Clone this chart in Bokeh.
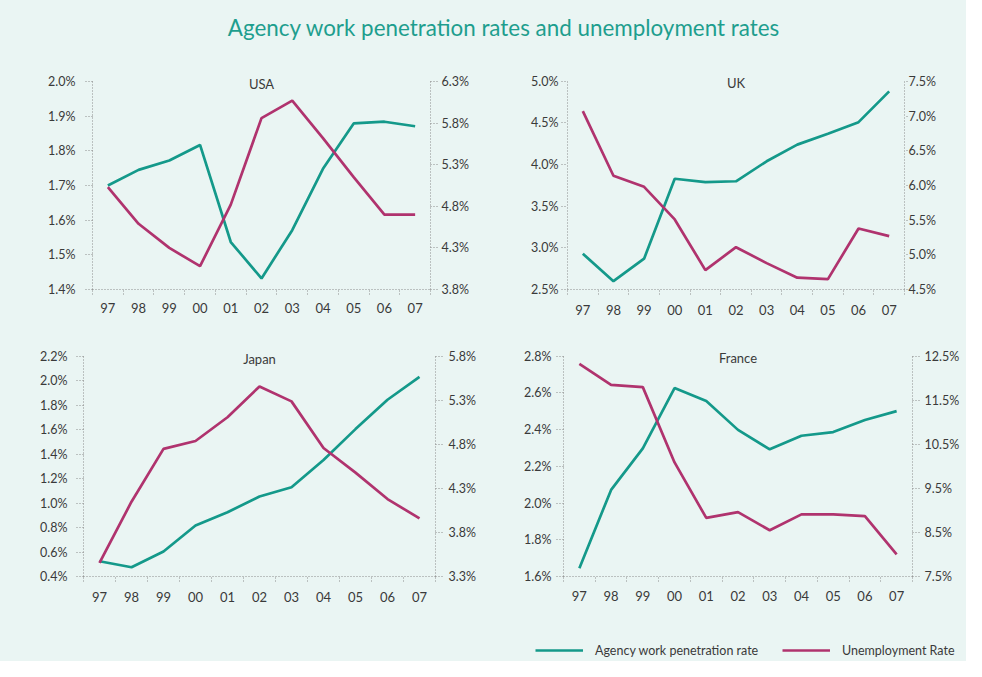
from bokeh.plotting import figure
from bokeh.models import (Range1d, LinearAxis, FixedTicker, Label, Legend, LegendItem,
                          PrintfTickFormatter)
from bokeh.layouts import column, row
from bokeh.embed import file_html
from bokeh.resources import INLINE

# ---------------- data ----------------
years = ["97", "98", "99", "00", "01", "02", "03", "04", "05", "06", "07"]

usa_agency = [1.70, 1.745, 1.772, 1.817, 1.537, 1.432, 1.571, 1.748, 1.879, 1.884, 1.871]
usa_unemp = [5.03, 4.59, 4.30, 4.08, 4.82, 5.86, 6.07, 5.62, 5.15, 4.70, 4.70]
usa_left_ticks = [1.4, 1.5, 1.6, 1.7, 1.8, 1.9, 2.0]
usa_right_ticks = [3.8, 4.3, 4.8, 5.3, 5.8, 6.3]

uk_agency = [2.93, 2.60, 2.87, 3.83, 3.79, 3.80, 4.04, 4.24, 4.37, 4.51, 4.88]
uk_unemp = [7.07, 6.14, 5.98, 5.51, 4.78, 5.11, 4.88, 4.67, 4.65, 5.38, 5.27]
uk_left_ticks = [2.5, 3.0, 3.5, 4.0, 4.5, 5.0]
uk_right_ticks = [4.5, 5.0, 5.5, 6.0, 6.5, 7.0, 7.5]

japan_agency = [0.525, 0.476, 0.604, 0.817, 0.926, 1.054, 1.130, 1.353, 1.606, 1.846, 2.034]
japan_unemp = [3.455, 4.15, 4.75, 4.84, 5.11, 5.46, 5.29, 4.76, 4.48, 4.18, 3.96]
japan_left_ticks = [0.4, 0.6, 0.8, 1.0, 1.2, 1.4, 1.6, 1.8, 2.0, 2.2]
japan_right_ticks = [3.3, 3.8, 4.3, 4.8, 5.3, 5.8]

france_agency = [1.645, 2.072, 2.298, 2.627, 2.556, 2.399, 2.293, 2.367, 2.387, 2.453, 2.501]
france_unemp = [12.33, 11.85, 11.80, 10.09, 8.83, 8.96, 8.55, 8.91, 8.91, 8.87, 8.00]
france_left_ticks = [1.6, 1.8, 2.0, 2.2, 2.4, 2.6, 2.8]
france_right_ticks = [7.5, 8.5, 9.5, 10.5, 11.5, 12.5]

title_text = "Agency work penetration rates and unemployment rates"
series_names = ["Agency work penetration rate", "Unemployment Rate"]

# ---------------- style ----------------
BG = "#EAF5F3"
GREEN = "#14998A"
RED = "#B0336E"
TITLE_C = "#1E9E8E"
AX = "#8c8c8c"
TXT = "#3a3a3a"
FONT = "Lato"
LW = 2.7
EXT = 10  # px of headroom above the top tick so the panel name is not clipped


def style_axis(ax, tick_out, standoff, size="13px"):
    ax.axis_line_color = AX
    ax.axis_line_dash = "1 2"
    ax.axis_line_width = 1
    ax.major_tick_line_color = AX
    ax.major_tick_line_dash = "1 2"
    ax.major_tick_out = tick_out
    ax.major_tick_in = 0
    ax.minor_tick_line_color = None
    ax.major_label_text_font = FONT
    ax.major_label_text_font_size = size
    ax.major_label_text_color = TXT
    ax.major_label_standoff = standoff


def make_panel(name, agency, unemp, lticks, rticks, w, h, borders,
               lstand, rstand, ltick=7, rtick=7, xstand=10):
    n = len(years)
    xs = list(range(n))
    b_left, b_right, b_top, b_bottom = borders
    frame_h = h - b_top - b_bottom
    lspan = lticks[-1] - lticks[0]
    rspan = rticks[-1] - rticks[0]
    p = figure(width=w, height=h, output_backend="svg", toolbar_location=None,
               x_range=Range1d(-0.5, n - 0.5),
               y_range=Range1d(lticks[0], lticks[-1] + lspan * EXT / frame_h),
               x_axis_location=None, y_axis_location=None,
               min_border_left=b_left, min_border_right=b_right,
               min_border_top=b_top - EXT, min_border_bottom=b_bottom)
    p.extra_y_ranges = {"u": Range1d(rticks[0], rticks[-1] + rspan * EXT / frame_h)}
    p.grid.visible = False
    p.outline_line_color = None
    p.background_fill_color = BG
    p.border_fill_color = BG

    xaxis = LinearAxis(ticker=FixedTicker(ticks=xs, minor_ticks=[i - 0.5 for i in range(n + 1)]),
                       major_label_overrides={i: years[i] for i in xs})
    style_axis(xaxis, 0, xstand)
    xaxis.major_tick_line_color = None
    xaxis.minor_tick_line_color = AX
    xaxis.minor_tick_line_dash = "1 2"
    xaxis.minor_tick_out = 5
    xaxis.minor_tick_in = 0
    p.add_layout(xaxis, "below")

    yl = LinearAxis(ticker=FixedTicker(ticks=lticks), bounds=(lticks[0], lticks[-1]),
                    formatter=PrintfTickFormatter(format="%.1f%%"))
    style_axis(yl, ltick, lstand, "12.5px")
    p.add_layout(yl, "left")

    yr = LinearAxis(y_range_name="u", ticker=FixedTicker(ticks=rticks),
                    bounds=(rticks[0], rticks[-1]),
                    formatter=PrintfTickFormatter(format="%.1f%%"))
    style_axis(yr, rtick, rstand, "12.5px")
    p.add_layout(yr, "right")

    p.line(xs, agency, line_color=GREEN, line_width=LW)
    p.line(xs, unemp, line_color=RED, line_width=LW, y_range_name="u")

    p.add_layout(Label(x=(n - 1) / 2, y=lticks[-1] - lspan * 2 / frame_h, text=name,
                       text_align="center", text_baseline="middle", text_font=FONT,
                       text_font_size="13px", text_color=TXT))
    return p


usa = make_panel("USA", usa_agency, usa_unemp, usa_left_ticks, usa_right_ticks,
                 490, 269, (92, 60, 17, 44), 10, 4, xstand=8)
uk = make_panel("UK", uk_agency, uk_unemp, uk_left_ticks, uk_right_ticks,
                476, 269, (77, 62, 17, 41), 3, 1, ltick=6, rtick=3, xstand=10)
japan = make_panel("Japan", japan_agency, japan_unemp, japan_left_ticks, japan_right_ticks,
                   490, 285, (83, 55, 23, 42), 9, 6, xstand=10)
france = make_panel("France", france_agency, france_unemp, france_left_ticks, france_right_ticks,
                    476, 285, (73, 54, 21, 39), 5, 5, xstand=9)

# ---------------- title strip ----------------
tf = figure(width=966, height=64, output_backend="svg", toolbar_location=None,
            x_range=Range1d(0, 966), y_range=Range1d(0, 64),
            x_axis_location=None, y_axis_location=None, min_border=0)
tf.grid.visible = False
tf.outline_line_color = None
tf.background_fill_color = BG
tf.border_fill_color = BG
tf.add_layout(Label(x=503.5, y=37, text=title_text, text_align="center",
                    text_baseline="middle", text_font=FONT, text_font_size="22.4px",
                    text_color=TITLE_C))

# ---------------- legend strip ----------------
lf = figure(width=966, height=43, output_backend="svg", toolbar_location=None,
            x_range=Range1d(0, 966), y_range=Range1d(0, 43),
            x_axis_location=None, y_axis_location=None, min_border=0)
lf.grid.visible = False
lf.outline_line_color = None
lf.background_fill_color = BG
lf.border_fill_color = BG
nan = float("nan")
r1 = lf.line(x=[nan], y=[nan], line_color=GREEN, line_width=LW)
r2 = lf.line(x=[nan], y=[nan], line_color=RED, line_width=LW)
for rend, label, loc in [(r1, series_names[0], (535, 3)), (r2, series_names[1], (782, 3))]:
    lg = Legend(items=[LegendItem(label=label, renderers=[rend])], location=loc,
                orientation="horizontal", background_fill_alpha=0, border_line_color=None,
                padding=0, margin=0, glyph_width=48, glyph_height=16, label_height=16,
                label_standoff=12, label_text_font=FONT, label_text_font_size="12.5px",
                label_text_color=TXT)
    lf.add_layout(lg)

bg_style = {"background-color": BG}
layout = column(tf,
                row(usa, uk, styles=bg_style),
                row(japan, france, styles=bg_style),
                lf, styles=bg_style)

open("out.html", "w").write(file_html(layout, INLINE))
